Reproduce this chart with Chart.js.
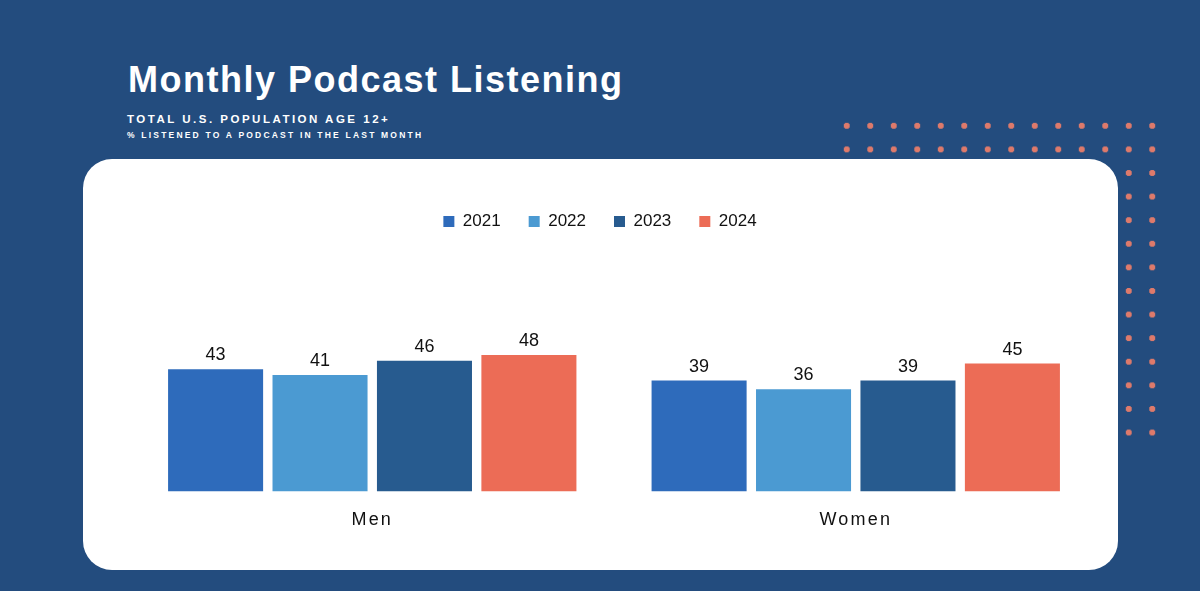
<!DOCTYPE html>
<html>
<head>
<meta charset="utf-8">
<script src="https://cdn.jsdelivr.net/npm/chart.js@4/dist/chart.umd.min.js"></script>
<style>
    html, body { margin:0; padding:0; }
    body { width:1200px; height:591px; background:#234c7e; position:relative; overflow:hidden; font-family:"Liberation Sans", Arial, sans-serif; }
    #pontos { position:absolute; left:835px; top:114px; width:329px; height:330px;
        background-image:radial-gradient(circle, #de7a6b 2.8px, transparent 3.4px);
        background-size:23.5px 23.6px; }
    #cartao { position:absolute; left:83px; top:159px; width:1035px; height:411px; background:#fff; border-radius:29px; }
    #titulo { position:absolute; left:128px; top:59px; color:#fff; font-weight:bold; font-size:36px; letter-spacing:1.5px; white-space:nowrap; }
    #sub1 { position:absolute; left:127px; top:113px; color:#fff; font-weight:bold; font-size:11.5px; letter-spacing:2.5px; white-space:nowrap; }
    #sub2 { position:absolute; left:127px; top:130px; color:#fff; font-weight:bold; font-size:8.5px; letter-spacing:2.2px; white-space:nowrap; }
    #graf { position:absolute; left:0; top:0; }
</style>
</head>
<body>
<div id="pontos"></div>
<div id="cartao"></div>
<div id="titulo">Monthly Podcast Listening</div>
<div id="sub1">TOTAL U.S. POPULATION AGE 12+</div>
<div id="sub2">% LISTENED TO A PODCAST IN THE LAST MONTH</div>
<canvas id="graf" width="1200" height="591"></canvas>

<script>
// dados do grafico
const categorias = ['Men', 'Women']
const anos = ['2021', '2022', '2023', '2024']
const valores2021 = [43, 39]
const valores2022 = [41, 36]
const valores2023 = [46, 39]
const valores2024 = [48, 45]
const cores = ['#2e6bbb', '#4b9ad2', '#275b8f', '#ec6c56']

const fonte = '"Liberation Sans", Arial, sans-serif'

/**
 * @description: escreve o valor em cima de cada barra
 */
const rotulosPlugin = {
    id: 'rotulos',
    afterDatasetsDraw(chart){
        let ctx = chart.ctx
        ctx.save()
        ctx.font = '18px ' + fonte
        ctx.fillStyle = '#111'
        ctx.textAlign = 'center'
        ctx.textBaseline = 'alphabetic'
        chart.data.datasets.forEach(function(ds, i){
            chart.getDatasetMeta(i).data.forEach(function(barra, j){
                ctx.fillText(ds.data[j], barra.x, barra.y - 9)
            })
        })
        ctx.restore()
    }
}

/**
 * @description: puxa a legenda um pouco para a esquerda
 * e da espaco entre as letras do eixo x (desenhado depois das barras)
 */
const ajustesPlugin = {
    id: 'ajustes',
    afterLayout(chart){
        chart.legend.left -= 14
        chart.legend.right -= 14
    },
    beforeDraw(chart){
        chart.ctx.letterSpacing = '0px'
    },
    afterDatasetsDraw(chart){
        chart.ctx.letterSpacing = '2.2px'
    },
    afterDraw(chart){
        chart.ctx.letterSpacing = '0px'
    }
}

/**
 * @description: gera grafico
 */
function gerarBarras(){
    let valores = [valores2021, valores2022, valores2023, valores2024]

    new Chart(
        document.getElementById('graf').getContext('2d'),
        {
            type: 'bar',
            data: {
                labels: categorias,
                datasets: anos.map(function(ano, i){
                    return {
                        label: ano,
                        data: valores[i],
                        backgroundColor: cores[i],
                        categoryPercentage: 0.864,
                        barPercentage: 0.91
                    }
                })
            },
            options: {
                responsive: false,
                animation: false,
                layout: {
                    padding: { left: 130.5, right: 102.5, top: 185, bottom: 50 }
                },
                plugins: {
                    legend: {
                        position: 'top',
                        labels: {
                            boxWidth: 11,
                            boxHeight: 11,
                            padding: 28,
                            color: '#111',
                            font: { family: fonte, size: 17 }
                        }
                    },
                    tooltip: { enabled: false }
                },
                scales: {
                    x: {
                        grid: { display: false },
                        border: { display: false },
                        ticks: {
                            z: 1,
                            padding: 10,
                            color: '#111',
                            font: { family: fonte, size: 18 }
                        }
                    },
                    y: {
                        display: false,
                        min: 0,
                        max: 88.5
                    }
                }
            },
            plugins: [rotulosPlugin, ajustesPlugin]
        }
    )
}

gerarBarras()
</script>
</body>
</html>
